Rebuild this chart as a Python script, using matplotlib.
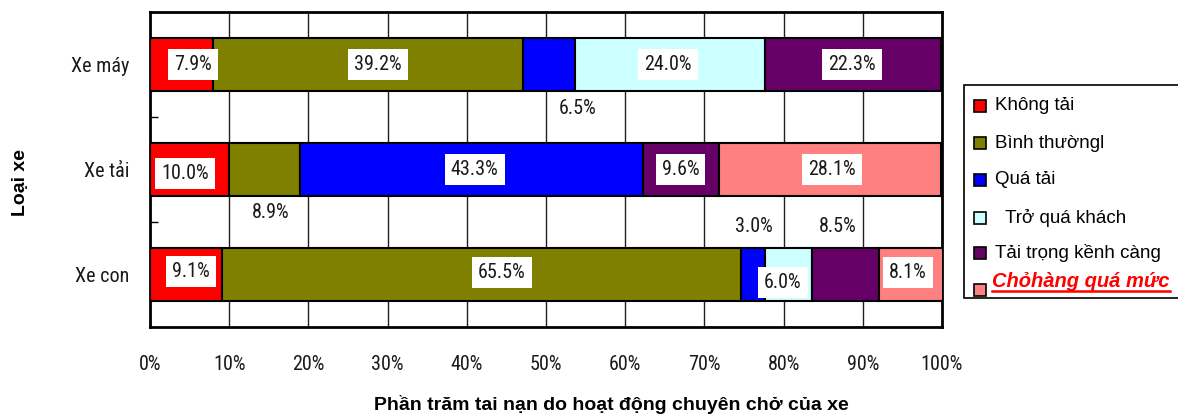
import matplotlib
matplotlib.use("Agg")
import matplotlib.pyplot as plt
from matplotlib import font_manager
from matplotlib.font_manager import FontProperties
from matplotlib.patches import Rectangle
from matplotlib.lines import Line2D
import numpy as np

# ---- data -------------------------------------------------------------
categories = ["Xe máy", "Xe tải", "Xe con"]
series_names = ["Không tải", "Bình thườngl", "Quá tải",
                "  Trở quá khách", "Tải trọng kềnh càng", "Chỏhàng quá mức"]
khong_tai = [7.9, 10.0, 9.1]
binh_thuong = [39.2, 8.9, 65.5]
qua_tai = [6.5, 43.3, 3.0]
tro_qua_khach = [24.0, 0.0, 6.0]
tai_trong_kenh_cang = [22.3, 9.6, 8.5]
cho_hang_qua_muc = [0.0, 28.1, 8.1]
x_ticks = [0, 10, 20, 30, 40, 50, 60, 70, 80, 90, 100]
x_tick_labels = [f"{t}%" for t in x_ticks]

series_values = [khong_tai, binh_thuong, qua_tai,
                 tro_qua_khach, tai_trong_kenh_cang, cho_hang_qua_muc]
colors = ["#FF0000", "#808000", "#0000FF", "#CCFFFF", "#660066", "#FF8080"]

# label offsets from the segment centre: (dx in %, dy in category units)
label_offsets = [
    [(1.45, 0.0), (1.3, 0.0), (3.65, 0.42), (-0.2, 0.0), (-0.1, 0.0), None],
    [(-0.6, 0.04), (0.75, 0.41), (0.45, 0.0), None, (0.0, 0.0), (0.25, 0.0)],
    [(0.65, -0.03), (2.55, -0.02), (0.2, -0.46), (-0.7, 0.08), (-0.95, -0.46), (-0.45, -0.02)],
]


def condensed_font():
    """Return a FontProperties for a narrow/condensed sans face if one exists."""
    wanted = ["Liberation Sans Narrow", "Arial Narrow", "Roboto Condensed",
              "Open Sans Condensed", "Noto Sans", "DejaVu Sans", "Roboto",
              "Open Sans", "Lato", "Inter"]
    cands = []
    for f in font_manager.fontManager.ttflist:
        fn = f.fname.lower()
        is_narrow = ("narrow" in fn or "condensed" in fn or "condensed" in str(f.stretch)
                     or "narrow" in f.name.lower())
        semi = "semicondensed" in fn or "semi-condensed" in str(f.stretch)
        extra = "extracondensed" in fn or "extra" in str(f.stretch)
        if not is_narrow or extra:
            continue
        if f.style != "normal":
            continue
        if f.weight not in (400, "normal", "regular", "book"):
            continue
        rank = len(wanted)
        for i, w in enumerate(wanted):
            if f.name.startswith(w.split()[0]):
                rank = i
                break
        cands.append((semi, rank, f.fname))
    if cands:
        cands.sort()
        return FontProperties(fname=cands[0][2])
    return FontProperties(family="Liberation Sans")


narrow_fp = condensed_font()
regular = "Liberation Sans"


def nfp(size):
    fp = narrow_fp.copy()
    fp.set_size(size)
    return fp


W, H = 1178, 416
fig = plt.figure(figsize=(W / 100, H / 100), dpi=100)
ax = fig.add_axes([150 / W, (H - 327) / H, 792 / W, 315 / H])

y = np.arange(len(categories))
left = np.zeros(len(categories))
bar_h = 0.5
for s_idx, (vals, col) in enumerate(zip(series_values, colors)):
    vals = np.asarray(vals, dtype=float)
    ax.barh(y, vals, left=left, height=bar_h, color=col,
            edgecolor="black", linewidth=1.5, zorder=3)
    for i, v in enumerate(vals):
        off = label_offsets[i][s_idx]
        if off is None or v <= 0:
            continue
        cx = left[i] + v / 2 + off[0]
        cy = y[i] + off[1]
        inside = abs(off[1]) < 0.3
        box = (dict(boxstyle="square,pad=0.3", facecolor="white", edgecolor="none")
               if inside else None)
        ax.text(cx, cy, f"{v:.1f}%", ha="center", va="center",
                fontproperties=nfp(14.5), color="#1a1a1a", zorder=5, bbox=box)
    left = left + vals

ax.set_xlim(0, 100)
ax.set_ylim(len(categories) - 0.5, -0.5)
ax.set_xticks(x_ticks)
ax.set_xticklabels(x_tick_labels, fontproperties=nfp(14.5), color="#1a1a1a")
ax.tick_params(axis="x", length=0, pad=20)
ax.set_yticks(y)
ax.set_yticklabels(categories, fontproperties=nfp(14.5), color="#1a1a1a")
ax.tick_params(axis="y", which="major", length=0, pad=15)
ax.set_yticks([0.5, 1.5], minor=True)
ax.tick_params(axis="y", which="minor", direction="in", length=6,
               width=1, color="black")
ax.grid(axis="x", color="#202020", linewidth=1.0, zorder=0)
ax.set_axisbelow(True)
for s in ax.spines.values():
    s.set_linewidth(2)
    s.set_color("black")

fig.text(20 / W, 1 - 182 / H, "Loại xe", rotation=90, ha="center", va="center",
         fontsize=14, fontweight="bold", family=[regular, "DejaVu Sans"])
fig.text(611 / W, 1 - 410 / H, "Phần trăm tai nạn do hoạt động chuyên chở của xe",
         ha="center", va="baseline", fontsize=14, fontweight="bold",
         family=[regular, "DejaVu Sans"])


# ---- legend, laid out in pixel units -----------------------------------
def px(xp, yp):
    return xp / W, 1 - yp / H


fig.patches.append(Rectangle(px(964, 298), (1200 - 964) / W, (298 - 85) / H,
                             transform=fig.transFigure, facecolor="white",
                             edgecolor="black", linewidth=1.2, zorder=1))
row_centres = [105.5, 143, 180, 218, 253, 290]
for k, (name, col, yc) in enumerate(zip(series_names, colors, row_centres)):
    fig.patches.append(Rectangle(px(974, yc + 6), 12 / W, 12 / H,
                                 transform=fig.transFigure, facecolor=col,
                                 edgecolor="black", linewidth=1.2, zorder=2))
    if k < 5:
        fig.text(*px(995, yc), name, ha="left", va="center", fontsize=13.5,
                 family=[regular, "DejaVu Sans"], color="black", zorder=3)
    else:
        t = fig.text(*px(992, 287), name, ha="left", va="baseline", fontsize=14.5,
                     family=[regular, "DejaVu Sans"], color="#FF0000",
                     fontweight="bold", fontstyle="italic", zorder=3)
        fig.canvas.draw()
        bb = t.get_window_extent()
        fig.add_artist(Line2D([bb.x0 / W, bb.x1 / W], [1 - 291 / H, 1 - 291 / H],
                              transform=fig.transFigure, color="#FF0000",
                              linewidth=1.8, zorder=3))

fig.savefig("out.png", dpi=100)
